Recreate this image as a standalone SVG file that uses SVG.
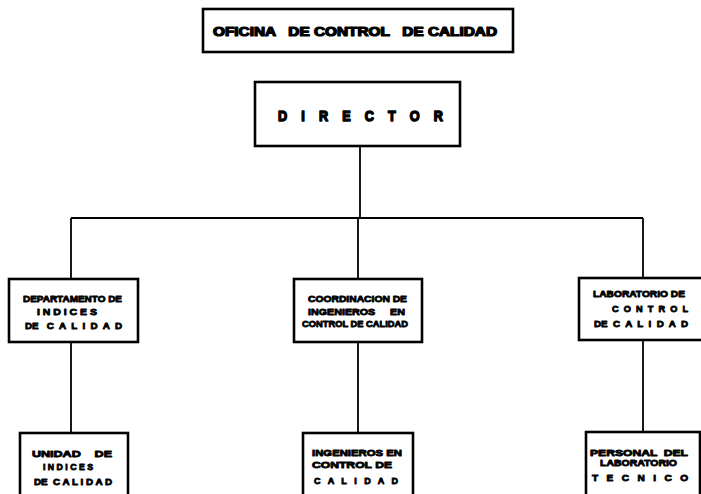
<svg xmlns="http://www.w3.org/2000/svg" width="701" height="494" viewBox="0 0 701 494">
<style>
.box{fill:#fff;stroke:#000;stroke-width:2.6}
.ln{fill:none;stroke:#000;stroke-width:1.8}
text{font-family:"Liberation Sans",Arial,sans-serif;font-weight:bold;fill:#000;stroke:#000;white-space:pre;stroke-linejoin:round}
.s{font-size:9.5px;stroke-width:0.85}
.t{font-size:12px;stroke-width:1.2}
.d{font-size:15px;stroke-width:1.5}
</style>
<rect width="701" height="494" fill="#fff"/>
<g id="connectors">
<path class="ln" d="M360 146V218M71 218H643M71 218V279M358 218V279M643 218V278M71 342V433M358 342V433M643 340V432"/>
</g>
<g id="titulo">
<rect class="box" x="203" y="9" width="310" height="43"/>
<text class="t" x="213" y="36" textLength="284" lengthAdjust="spacingAndGlyphs">OFICINA   DE CONTROL   DE CALIDAD</text>
</g>
<g id="director">
<rect class="box" x="255" y="82" width="205" height="64"/>
<text class="d" x="278" y="121" textLength="165" lengthAdjust="spacingAndGlyphs">D    I    R    E    C    T    O    R</text>
</g>
<g id="departamento">
<rect class="box" x="9" y="279" width="129" height="63"/>
<text class="s" x="23" y="302" textLength="99" lengthAdjust="spacingAndGlyphs">DEPARTAMENTO DE</text>
<text class="s" x="37" y="315" textLength="60" lengthAdjust="spacingAndGlyphs">I N D I C E S</text>
<text class="s" x="25" y="329" textLength="97" lengthAdjust="spacingAndGlyphs">DE   C  A  L  I  D  A  D</text>
</g>
<g id="coordinacion">
<rect class="box" x="294" y="279" width="128" height="63"/>
<text class="s" x="308" y="302" textLength="99" lengthAdjust="spacingAndGlyphs">COORDINACION DE</text>
<text class="s" x="308" y="315" textLength="97" lengthAdjust="spacingAndGlyphs">INGENIEROS     EN</text>
<text class="s" x="302" y="327" textLength="106" lengthAdjust="spacingAndGlyphs">CONTROL DE CALIDAD</text>
</g>
<g id="laboratorio">
<rect class="box" x="579" y="278" width="130" height="62"/>
<text class="s" x="593" y="297" textLength="92" lengthAdjust="spacingAndGlyphs">LABORATORIO DE</text>
<text class="s" x="612" y="312" textLength="76" lengthAdjust="spacingAndGlyphs">C  O  N  T  R  O  L</text>
<text class="s" x="594" y="327" textLength="94" lengthAdjust="spacingAndGlyphs">DE  C  A  L  I  D  A  D</text>
</g>
<g id="unidad">
<rect class="box" x="20" y="433" width="108" height="70"/>
<text class="s" x="32" y="457" textLength="80" lengthAdjust="spacingAndGlyphs">UNIDAD    DE</text>
<text class="s" x="43" y="470" textLength="50" lengthAdjust="spacingAndGlyphs">I N D I C E S</text>
<text class="s" x="34" y="485" textLength="78" lengthAdjust="spacingAndGlyphs">DE  C A L I D A D</text>
</g>
<g id="ingenieros">
<rect class="box" x="303" y="433" width="110" height="70"/>
<text class="s" x="312" y="456" textLength="90" lengthAdjust="spacingAndGlyphs">INGENIEROS EN</text>
<text class="s" x="312" y="468" textLength="80" lengthAdjust="spacingAndGlyphs">CONTROL DE</text>
<text class="s" x="314" y="484" textLength="84" lengthAdjust="spacingAndGlyphs">C   A   L   I   D   A   D</text>
</g>
<g id="personal">
<rect class="box" x="586" y="432" width="114" height="70"/>
<text class="s" x="590" y="456" textLength="98" lengthAdjust="spacingAndGlyphs">PERSONAL  DEL</text>
<text class="s" x="600" y="466" textLength="77" lengthAdjust="spacingAndGlyphs">LABORATORIO</text>
<text class="s" x="592" y="481" textLength="96" lengthAdjust="spacingAndGlyphs">T   E   C   N   I   C   O</text>
</g>
</svg>
